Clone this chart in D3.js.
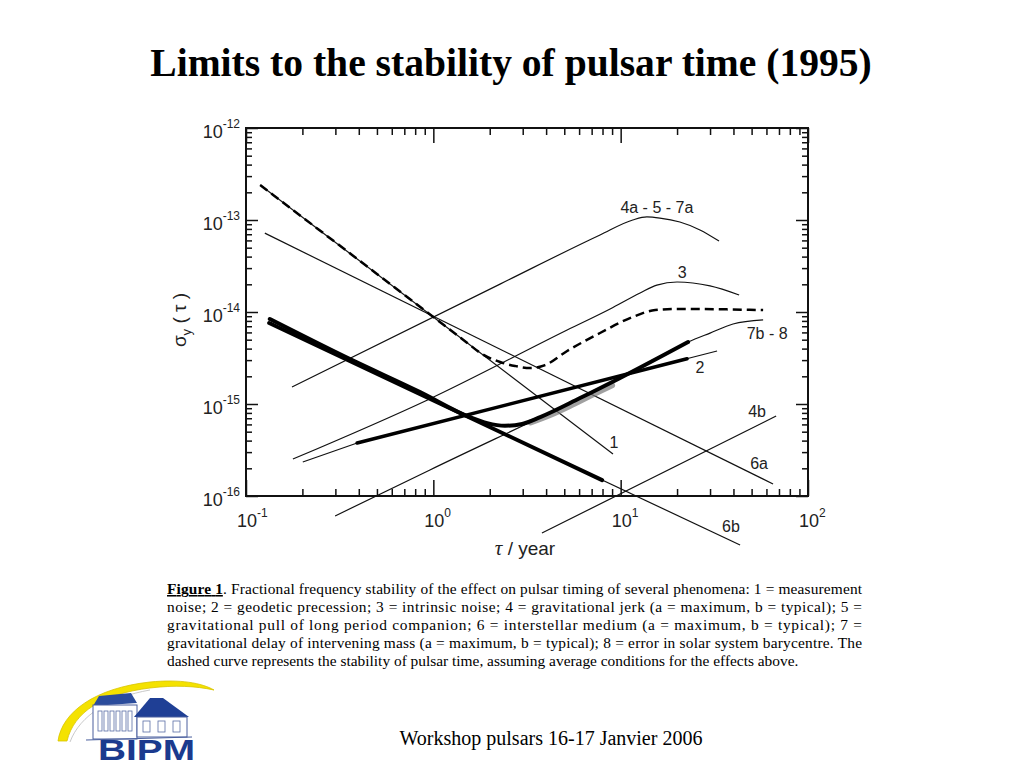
<!DOCTYPE html>
<html>
<head>
<meta charset="utf-8">
<script src="https://cdn.jsdelivr.net/npm/d3@7"></script>
<style>
  body { margin: 0; background: #fff; }
</style>
</head>
<body>
<svg id="chart" width="1024" height="768"></svg>
<script>
// axis ticks
const majorTau = [0.1, 1, 10, 100];
const tauExp = ["-1", "0", "1", "2"];
const majorSig = [1e-16, 1e-15, 1e-14, 1e-13, 1e-12];
const sigExp = ["-16", "-15", "-14", "-13", "-12"];

// curves (tau in years, sigma_y)
const tau1 = [0.119, 9.1];
const sig1 = [2.4e-13, 2.86e-16];

const tau2 = [0.201, 0.392, 32.7];
const sig2 = [2.34e-16, 3.77e-16, 3.77e-15];
const tau2Thick = [0.392, 22.6];
const sig2Thick = [3.77e-16, 3.10e-15];

const tau3 = [0.178, 0.925, 5.18, 8.78, 12.7, 15.6, 20.0, 30.0, 42.9];
const sig3 = [2.52e-16, 1.10e-15, 6.37e-15, 1.08e-14, 1.61e-14, 1.96e-14, 2.12e-14, 1.92e-14, 1.53e-14];

const tau4a = [0.176, 2.27, 7.76, 11.6, 13.8, 16.2, 20.7, 26.5, 33.5];
const sig4a = [1.53e-15, 2.01e-14, 6.87e-14, 1.0e-13, 1.08e-13, 1.05e-13, 9.5e-14, 7.8e-14, 5.9e-14];

const tau4b = [3.80, 67.6];
const sig4b = [3.96e-17, 7.4e-16];

const tau6a = [0.126, 65.1];
const sig6a = [7.2e-14, 1.35e-16];

const tau6b = [0.133, 43.4];
const sig6b = [7.6e-15, 2.93e-17];
const tau6bThick = [0.133, 7.96];
const sig6bThick = [7.6e-15, 1.49e-16];

const tau7b = [0.299, 0.959, 9.93, 22.9, 30.0, 39.8, 57.6];
const sig7b = [6.07e-17, 1.92e-16, 1.92e-15, 4.72e-15, 5.9e-15, 7.4e-15, 8.2e-15];

// thick curve: combined effects, typical conditions
const tauTyp = [0.134, 0.359, 0.849, 1.57, 1.94, 2.41, 2.98, 3.72, 6.07, 9.93, 22.9];
const sigTyp = [8.4e-15, 3.08e-15, 1.35e-15, 7.2e-16, 6.2e-16, 5.8e-16, 6.07e-16, 7.2e-16, 1.16e-15, 1.92e-15, 4.72e-15];
const tauNoise = [3.3, 4.2, 5.5, 7.0, 9.0];
const sigNoise = [6.3e-16, 7.6e-16, 9.8e-16, 1.25e-15, 1.6e-15];

// dashed curve: stability of pulsar time
const tauTot = [0.119, 0.5, 1.0, 1.5, 1.78, 2.27, 2.73, 3.28, 3.95, 5.18, 7.76, 11.6, 15.3, 20.7, 57.6];
const sigTot = [2.4e-13, 2.59e-14, 8.81e-15, 4.70e-15, 3.60e-15, 2.86e-15, 2.59e-15, 2.46e-15, 2.65e-15, 3.77e-15, 5.91e-15, 8.83e-15, 1.05e-14, 1.08e-14, 1.05e-14];

// curve labels
const labelText = ["4a - 5 - 7a", "3", "7b - 8", "2", "1", "4b", "6a", "6b"];
const labelTau = [15.6, 21.3, 60.5, 26.5, 9.2, 53.5, 54.8, 38.8];
const labelSig = [1.19e-13, 2.34e-14, 5.09e-15, 2.17e-15, 3.33e-16, 7.2e-16, 1.96e-16, 4.06e-17];

const captionLines = [
  ". Fractional frequency stability of the effect on pulsar timing of several phenomena: 1 = measurement",
  "noise; 2 = geodetic precession; 3 = intrinsic noise; 4 = gravitational jerk (a = maximum, b = typical); 5 =",
  "gravitational pull of long period companion; 6 = interstellar medium (a = maximum, b = typical); 7 =",
  "gravitational delay of intervening mass (a = maximum, b = typical); 8 = error in solar system barycentre. The",
  "dashed curve represents the stability of pulsar time, assuming average conditions for the effects above."
];

const svg = d3.select("#chart");

const x = d3.scaleLog().domain([0.1, 100]).range([246, 808]);
const y = d3.scaleLog().domain([1e-16, 1e-12]).range([496, 128]);

const zip = (a, b) => a.map((v, i) => [v, b[i]]);
const straight = d3.line().x(d => x(d[0])).y(d => y(d[1]));
const smooth = d3.line().x(d => x(d[0])).y(d => y(d[1])).curve(d3.curveMonotoneX);

// title
svg.append("text")
  .attr("x", 511).attr("y", 76)
  .attr("text-anchor", "middle")
  .attr("font-family", "Liberation Serif, Times New Roman, serif")
  .attr("font-weight", "bold")
  .attr("font-size", 39.6)
  .text("Limits to the stability of pulsar time (1995)");

// axes: minor and major ticks on all four sides, pointing inward
const minorTau = x.ticks().filter(t => !majorTau.some(m => Math.abs(m - t) / m < 1e-6));
const minorSig = y.ticks().filter(t => !majorSig.some(m => Math.abs(m - t) / m < 1e-6));

function styleAxis(g) {
  g.select(".domain").remove();
  g.selectAll("line").attr("stroke", "#111").attr("stroke-width", 1.5);
  g.selectAll("text").remove();
}

svg.append("g").attr("transform", "translate(0,496)")
  .call(d3.axisBottom(x).tickValues(minorTau).tickSize(-7)).call(styleAxis);
svg.append("g").attr("transform", "translate(0,496)")
  .call(d3.axisBottom(x).tickValues(majorTau).tickSize(-16)).call(styleAxis);
svg.append("g").attr("transform", "translate(0,128)")
  .call(d3.axisTop(x).tickValues(minorTau).tickSize(-7)).call(styleAxis);
svg.append("g").attr("transform", "translate(0,128)")
  .call(d3.axisTop(x).tickValues(majorTau).tickSize(-15)).call(styleAxis);
svg.append("g").attr("transform", "translate(246,0)")
  .call(d3.axisLeft(y).tickValues(minorSig).tickSize(-6)).call(styleAxis);
svg.append("g").attr("transform", "translate(246,0)")
  .call(d3.axisLeft(y).tickValues(majorSig).tickSize(-12)).call(styleAxis);
svg.append("g").attr("transform", "translate(808,0)")
  .call(d3.axisRight(y).tickValues(minorSig).tickSize(-6)).call(styleAxis);
svg.append("g").attr("transform", "translate(808,0)")
  .call(d3.axisRight(y).tickValues(majorSig).tickSize(-12)).call(styleAxis);

svg.append("rect")
  .attr("x", x(0.1)).attr("y", y(1e-12))
  .attr("width", x(100) - x(0.1)).attr("height", y(1e-16) - y(1e-12))
  .attr("fill", "none").attr("stroke", "#111").attr("stroke-width", 2);

// tick labels 10^n
const tickFont = "Liberation Sans, Arial, Helvetica, sans-serif";
majorTau.forEach((t, i) => {
  const tx = svg.append("text")
    .attr("x", x(t) - 9).attr("y", 527)
    .attr("font-family", tickFont).attr("font-size", 18).attr("fill", "#222");
  tx.append("tspan").text("10");
  tx.append("tspan").attr("dy", -10).attr("font-size", 12).text(tauExp[i]);
});
majorSig.forEach((s, i) => {
  const ty = svg.append("text")
    .attr("x", 240).attr("y", y(s) + 10)
    .attr("text-anchor", "end")
    .attr("font-family", tickFont).attr("font-size", 18).attr("fill", "#222");
  ty.append("tspan").text("10");
  ty.append("tspan").attr("dy", -10).attr("font-size", 12).text(sigExp[i]);
});

// axis titles
const xt = svg.append("text")
  .attr("x", 525).attr("y", 555)
  .attr("text-anchor", "middle")
  .attr("font-family", tickFont).attr("font-size", 19).attr("fill", "#222");
xt.append("tspan").attr("font-family", "Liberation Serif, serif").attr("font-style", "italic").attr("font-size", 21).text("τ");
xt.append("tspan").text(" / year");

const yt = svg.append("text")
  .attr("transform", "translate(186,320) rotate(-90)")
  .attr("text-anchor", "middle")
  .attr("font-family", tickFont).attr("font-size", 19).attr("fill", "#222");
yt.append("tspan").text("σ");
yt.append("tspan").attr("dy", 5).attr("font-size", 13).text("y");
yt.append("tspan").attr("dy", -5).text(" ( τ )");

// thin curves
const thin = [
  [straight, tau1, sig1],
  [straight, tau2, sig2],
  [smooth, tau3, sig3],
  [smooth, tau4a, sig4a],
  [straight, tau4b, sig4b],
  [straight, tau6a, sig6a],
  [straight, tau6b, sig6b],
  [smooth, tau7b, sig7b]
];
thin.forEach(([gen, t, s]) => {
  svg.append("path")
    .attr("d", gen(zip(t, s)))
    .attr("fill", "none").attr("stroke", "#111").attr("stroke-width", 1.2);
});

// gray noisy band under the typical curve
svg.append("path")
  .attr("d", smooth(zip(tauNoise, sigNoise)))
  .attr("fill", "none").attr("stroke", "#777").attr("stroke-width", 6)
  .attr("stroke-linecap", "round").attr("opacity", 0.7);

// thick segments
[[tau2Thick, sig2Thick, 3.5], [tau6bThick, sig6bThick, 4]].forEach(([t, s, w]) => {
  svg.append("path")
    .attr("d", straight(zip(t, s)))
    .attr("fill", "none").attr("stroke", "#000").attr("stroke-width", w)
    .attr("stroke-linecap", "round");
});
svg.append("path")
  .attr("d", smooth(zip(tauTyp, sigTyp)))
  .attr("fill", "none").attr("stroke", "#000").attr("stroke-width", 4)
  .attr("stroke-linecap", "round").attr("stroke-linejoin", "round");

// dashed total
svg.append("path")
  .attr("d", smooth(zip(tauTot, sigTot)))
  .attr("fill", "none").attr("stroke", "#000").attr("stroke-width", 2.5)
  .attr("stroke-dasharray", "9,5");

// curve labels
labelText.forEach((txt, i) => {
  svg.append("text")
    .attr("x", x(labelTau[i])).attr("y", y(labelSig[i]))
    .attr("text-anchor", "middle")
    .attr("font-family", tickFont).attr("font-size", 16).attr("fill", "#222")
    .text(txt);
});

// caption
const capFont = "Liberation Serif, Times New Roman, serif";
captionLines.forEach((line, i) => {
  const t = svg.append("text")
    .attr("x", 167).attr("y", 594 + i * 18)
    .attr("font-family", capFont).attr("font-size", 15.4).attr("fill", "#000");
  if (i < captionLines.length - 1) {
    t.attr("textLength", 695).attr("lengthAdjust", "spacing");
  }
  if (i === 0) {
    t.append("tspan").attr("font-weight", "bold")
      .style("text-decoration", "underline").text("Figure 1");
  }
  t.append("tspan").text(line);
});

// footer
svg.append("text")
  .attr("x", 551).attr("y", 745)
  .attr("text-anchor", "middle")
  .attr("font-family", capFont).attr("font-size", 20).attr("fill", "#000")
  .text("Workshop pulsars 16-17 Janvier 2006");

// BIPM logo
const logo = svg.append("g");
logo.append("path")
  .attr("d", "M58,741 C62,712 95,688 150,682 C180,679 202,683 214,690 C195,686 175,685 150,688 C102,694 74,712 67,741 Z")
  .attr("fill", "#f4e200").attr("stroke", "#d8c400").attr("stroke-width", 0.8);
logo.append("path")
  .attr("d", "M70,742 C80,715 110,697 150,690")
  .attr("fill", "none").attr("stroke", "#bbb").attr("stroke-width", 0.8);
// left block
logo.append("polygon").attr("points", "93,706 99,696 131,693 137,703")
  .attr("fill", "#2b4c9c");
logo.append("rect").attr("x", 93).attr("y", 705).attr("width", 44).attr("height", 34)
  .attr("fill", "#fff").attr("stroke", "#4a5f9e").attr("stroke-width", 1);
[98, 104, 110, 116, 122, 128].forEach(wx => {
  logo.append("rect").attr("x", wx).attr("y", 711).attr("width", 4).attr("height", 20)
    .attr("fill", "none").attr("stroke", "#5b6ea6").attr("stroke-width", 0.8);
});
// right wing
logo.append("polygon").attr("points", "134,717 150,698 163,698 189,717")
  .attr("fill", "#1f3f95");
logo.append("rect").attr("x", 137).attr("y", 717).attr("width", 50).attr("height", 20)
  .attr("fill", "#fff").attr("stroke", "#4a5f9e").attr("stroke-width", 1);
[143, 158, 173].forEach(wx => {
  logo.append("rect").attr("x", wx).attr("y", 721).attr("width", 7).attr("height", 11)
    .attr("fill", "none").attr("stroke", "#5b6ea6").attr("stroke-width", 0.8);
});
logo.append("line").attr("x1", 86).attr("y1", 740).attr("x2", 192).attr("y2", 737)
  .attr("stroke", "#4a5f9e").attr("stroke-width", 1);
logo.append("text")
  .attr("x", 98).attr("y", 760)
  .attr("font-family", "Liberation Sans, Arial, sans-serif")
  .attr("font-weight", "bold").attr("font-size", 29)
  .attr("textLength", 97).attr("lengthAdjust", "spacingAndGlyphs")
  .attr("fill", "#1b3a8e")
  .text("BIPM");
</script>
</body>
</html>
